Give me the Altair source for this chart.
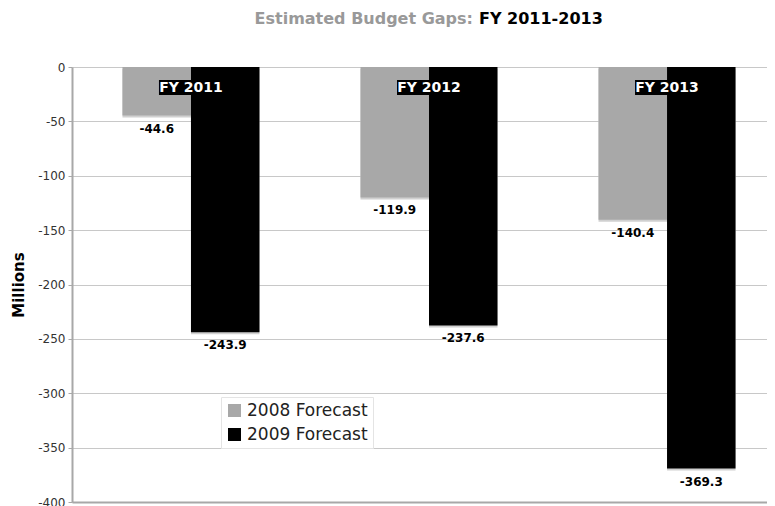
import altair as alt
import pandas as pd

years = ["FY 2011", "FY 2012", "FY 2013"]
series_names = ["2008 Forecast", "2009 Forecast"]
forecast_2008 = [-44.6, -119.9, -140.4]
forecast_2009 = [-243.9, -237.6, -369.3]
y_ticks = [0, -50, -100, -150, -200, -250, -300, -350, -400]
title_gray = "Estimated Budget Gaps:"
title_black = "FY 2011-2013"

rows = []
for i, y in enumerate(years):
    rows.append({"year": y, "series": series_names[0], "value": forecast_2008[i]})
    rows.append({"year": y, "series": series_names[1], "value": forecast_2009[i]})
df = pd.DataFrame(rows)
df["label"] = df["value"].map(lambda v: f"{v:.1f}")
years_df = pd.DataFrame({"year": years})

FONT = "DejaVu Sans"

x_enc = alt.X(
    "year:N",
    sort=years,
    scale=alt.Scale(domain=years, range=[0, 714], paddingInner=0.4244, paddingOuter=0.212),
    axis=alt.Axis(labels=False, ticks=False, title=None, grid=False,
                  domainColor="#a8a8a8", domainWidth=2),
)
xo_enc = alt.XOffset("series:N", scale=alt.Scale(domain=series_names, paddingInner=0))
y_enc = alt.Y(
    "value:Q",
    scale=alt.Scale(domain=[-400, 0], nice=False, zero=True),
    axis=alt.Axis(
        values=y_ticks, title="Millions", titleFont=FONT, titleFontSize=15,
        titleFontWeight="bold", titleColor="#000000", titleAngle=270,
        titleX=-54, titleY=217.5, titleAlign="center", titleBaseline="middle",
        labelFont=FONT, labelFontSize=12, labelColor="#333333", labelPadding=3,
        labelExpr="toString(datum.value)",
        tickColor="#a8a8a8", tickSize=4, domainColor="#a8a8a8", domainWidth=2,
        gridColor="#c8c8c8", gridWidth=1,
    ),
)

base = alt.Chart(df)

shadow = base.mark_bar(color="#d0d0d0", xOffset=2, yOffset=2).encode(
    x=x_enc, xOffset=xo_enc, y=y_enc
)

bars = base.mark_bar().encode(
    x=x_enc,
    xOffset=xo_enc,
    y=y_enc,
    color=alt.Color(
        "series:N",
        scale=alt.Scale(domain=series_names, range=["#a8a8a8", "#000000"]),
        legend=alt.Legend(
            orient="none", legendX=149, legendY=330, title=None,
            symbolType="square", symbolSize=170, symbolStrokeWidth=0,
            labelFont=FONT, labelFontSize=17, labelColor="#222222",
            fillColor="white", strokeColor="#e4e4e4", padding=5,
            rowPadding=6, symbolOffset=0, labelOffset=4,
        ),
    ),
)

value_labels = base.mark_text(
    font=FONT, fontSize=12, fontWeight="bold", color="#000000", dy=13, baseline="middle"
).encode(x=x_enc, xOffset=xo_enc, y=y_enc, text="label:N")

fy_box = alt.Chart(years_df).mark_bar(color="#000000", size=64).encode(
    x=alt.X("year:N", sort=years), y=alt.value(13), y2=alt.value(28)
)
fy_text = alt.Chart(years_df).mark_text(
    font=FONT, fontSize=14, fontWeight="bold", color="white", baseline="middle"
).encode(x=alt.X("year:N", sort=years), y=alt.value(20.5), text="year:N")

t1 = alt.Chart(pd.DataFrame({"t": [title_gray]})).mark_text(
    font=FONT, fontSize=16, fontWeight="bold", color="#999999", align="right", baseline="middle"
).encode(x=alt.value(401), y=alt.value(-48), text="t:N")
t2 = alt.Chart(pd.DataFrame({"t": [title_black]})).mark_text(
    font=FONT, fontSize=16, fontWeight="bold", color="#000000", align="left", baseline="middle"
).encode(x=alt.value(407), y=alt.value(-48), text="t:N")

chart = alt.layer(shadow, bars, value_labels, fy_box, fy_text, t1, t2).properties(
    width=695,
    height=435,
    autosize=alt.AutoSizeParams(type="none"),
    padding={"left": 64, "top": 59, "right": 0, "bottom": 4},
).configure_view(stroke=None).configure(background="white")

chart.save("out.html", embed_options={"renderer": "svg", "actions": False})
